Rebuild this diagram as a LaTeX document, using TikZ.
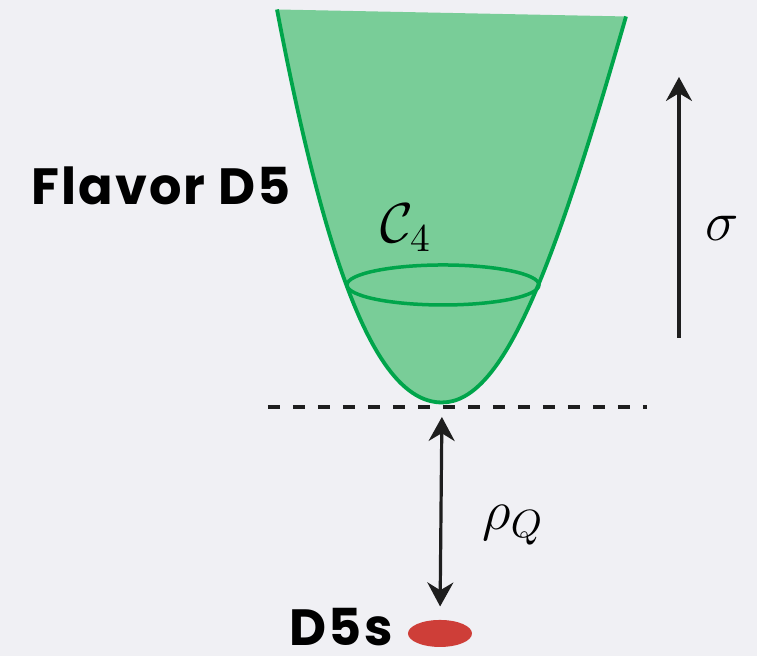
\RequirePackage{fix-cm}
\documentclass[tikz,border=0pt]{standalone}
\usepackage{amsmath, amssymb}
\usepackage{fontspec}
\newfontfamily\comicfont{Poppins}[LetterSpace=4]
\usepackage{tikz}
\usetikzlibrary{arrows.meta, shapes.geometric}
\usepackage{xcolor}
\definecolor{bgpaper}{RGB}{240,240,244}
\definecolor{cupfill}{RGB}{121,205,152}
\definecolor{cupedge}{RGB}{0,165,75}
\definecolor{branered}{RGB}{206,62,56}
\definecolor{inkdark}{RGB}{30,30,30}

\begin{document}
\begin{tikzpicture}[x=0.1mm, y=0.1mm, >={Stealth[length=2.4mm, width=2.6mm]}, line width=0.3mm,
    mathlabel/.style={font=\fontsize{16}{19}\selectfont, inner sep=0pt},
    comiclabel/.style={font=\comicfont\bfseries\fontsize{14.5}{17}\selectfont, inner sep=0pt},
    arrowline/.style={draw=inkdark, line width=0.32mm}]

% Background
\fill[bgpaper] (0,0) rectangle (757,656);
\useasboundingbox (0,0) rectangle (757,656);

% Flavor D5 cup (fill, then the curved rim only)
\fill[cupfill] (277,646.5) .. controls (327,384.5) and (377,253.5) .. (442,253.5)
    .. controls (504,253.5) and (554,388.5) .. (626,639.5) -- cycle;
\draw[cupedge, line width=0.38mm] (277,646.5) .. controls (327,384.5) and (377,253.5) .. (442,253.5)
    .. controls (504,253.5) and (554,388.5) .. (626,639.5);

% Cycle C4
\draw[cupedge, line width=0.35mm] (443,371) ellipse [x radius=96, y radius=20];
\node[mathlabel] (cycle) at (406,428) {$\mathcal{C}_4$};

% Labels
\node[comiclabel, anchor=base west] (flavor) at (30,451) {Flavor D5};
\node[comiclabel, anchor=base east] (d5s) at (394,10) {D5s};

% Tip of the cup and dashed line
\coordinate (tip) at (442,249);
\coordinate (dashL) at (268,249);
\coordinate (dashR) at (647,249);
\draw[inkdark, line width=0.4mm, dash pattern=on 1.2mm off 1.3mm] (dashL) -- (dashR);

% D5 branes
\node[ellipse, fill=branered, minimum width=6.4mm, minimum height=2.7mm, inner sep=0pt] (branes) at (440,22.5) {};

% Distance rho_Q
\draw[arrowline, <->, shorten <=1mm, shorten >=1.2mm] (tip) -- (branes.north);
\node[mathlabel, anchor=west] (rho) at (481,131) {$\rho_Q$};

% Radial direction sigma
\coordinate (sigmaBot) at (679,318);
\coordinate (sigmaTop) at (679,579);
\draw[arrowline, ->] (sigmaBot) -- (sigmaTop);
\node[mathlabel] (sigma) at (722,428) {$\sigma$};

\end{tikzpicture}
\end{document}
